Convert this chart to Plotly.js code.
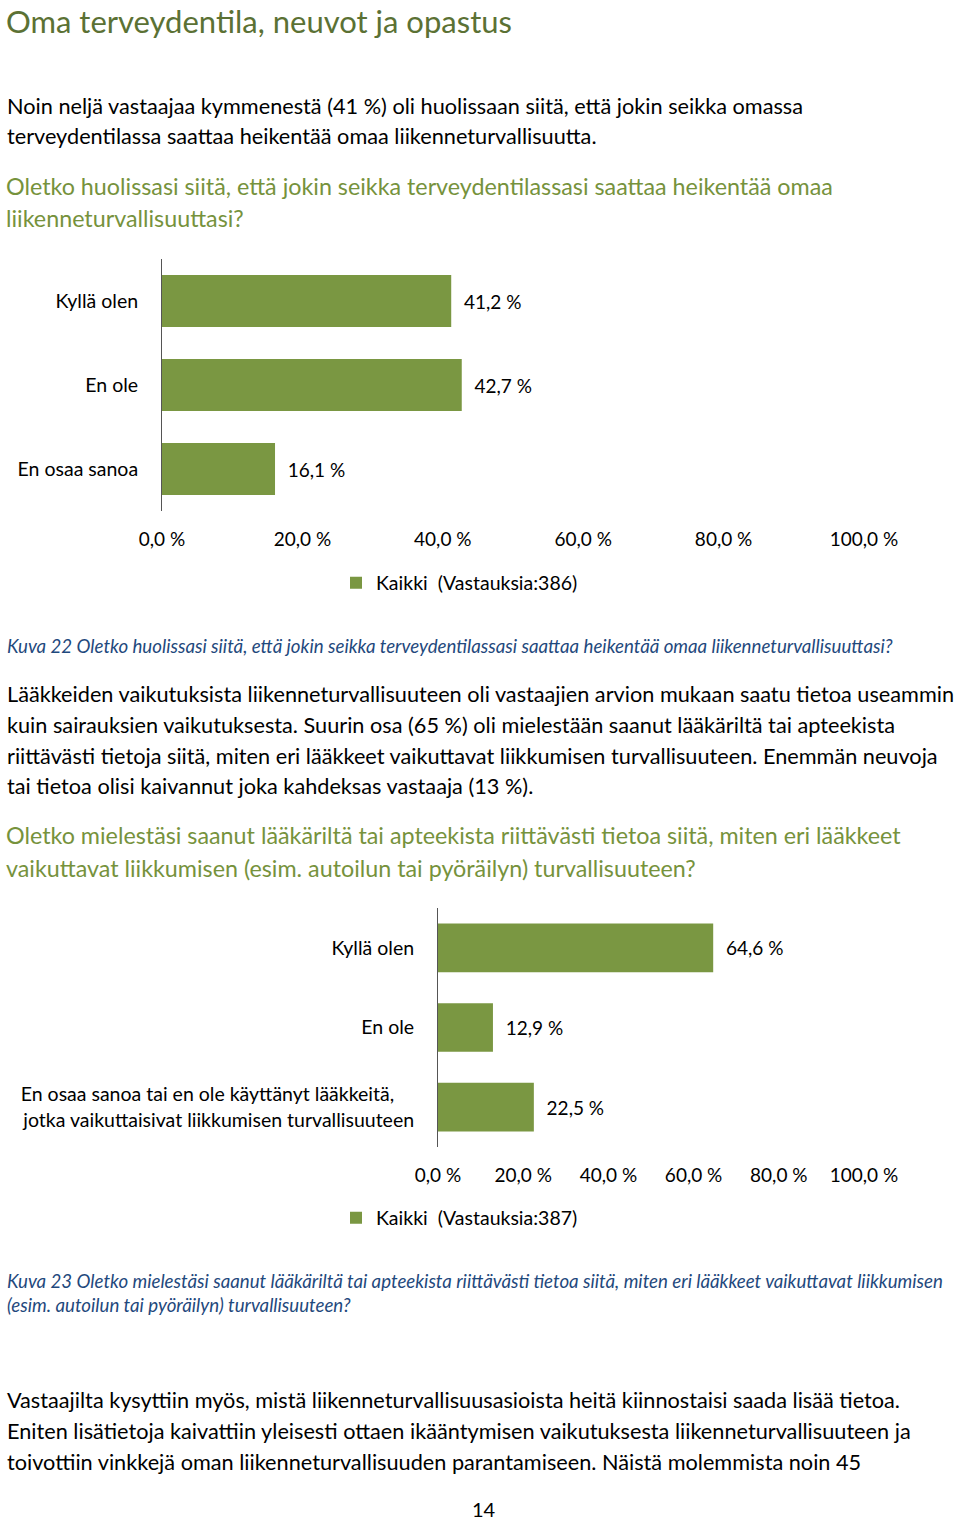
<!DOCTYPE html>
<html><head><meta charset="utf-8">
<script src="https://cdn.plot.ly/plotly-3.0.1.min.js"></script>
<style>html,body{margin:0;padding:0;background:#fff}#p{width:960px;height:1521px}</style>
</head><body><div id="p"></div>
<script>
// Chart 1 data
const cats1 = ["Kyllä olen", "En ole", "En osaa sanoa"];
const vals1 = [41.2, 42.7, 16.1];
const legend1 = "Kaikki  (Vastauksia:386)";
// Chart 2 data
const cats2 = ["Kyllä olen", "En ole", "En osaa sanoa tai en ole käyttänyt lääkkeitä,\u00a0\u00a0\u00a0\u00a0<br>jotka vaikuttaisivat liikkumisen turvallisuuteen"];
const vals2 = [64.6, 12.9, 22.5];
const legend2 = "Kaikki  (Vastauksia:387)";
const xTicks = [0, 20, 40, 60, 80, 100];

const W = 960, H = 1521;
const px = x => x / W;
const py = y => 1 - y / H;
const FONT = "Lato, 'Open Sans', sans-serif";
const BAR = "#7a9742";
const fmt = v => v.toFixed(1).replace('.', ',') + '\u00a0%';
const xTickText = xTicks.map(fmt);

const traces = [
  {type:'bar', orientation:'h', x:vals1, y:cats1, xaxis:'x', yaxis:'y', name:legend1, legend:'legend',
   width:0.62, marker:{color:BAR}, text:vals1.map(v=>'\u00a0\u00a0'+fmt(v)), textposition:'outside',
   textfont:{family:FONT, size:19, color:'#000'}, cliponaxis:false, hoverinfo:'skip', showlegend:true},
  {type:'bar', orientation:'h', x:vals2, y:cats2, xaxis:'x2', yaxis:'y2', name:legend2, legend:'legend2',
   width:0.61, marker:{color:BAR}, text:vals2.map(v=>'\u00a0\u00a0'+fmt(v)), textposition:'outside',
   textfont:{family:FONT, size:19, color:'#000'}, cliponaxis:false, hoverinfo:'skip', showlegend:true}
];

const xax = (d) => ({domain:d, range:[0,100], tickmode:'array', tickvals:xTicks, ticktext:xTickText,
  showgrid:false, zeroline:false, showline:false, ticks:'', ticklabelstandoff:15,
  tickfont:{family:FONT, size:19, color:'#000'}, fixedrange:true});
const yax = (d, anchor, n) => ({domain:d, anchor:anchor, type:'category', range:[n-0.5, -0.5],
  showgrid:false, zeroline:false, showline:true, linecolor:'#555', linewidth:1, ticks:'',
  ticklabelstandoff:19, tickfont:{family:FONT, size:19.5, color:'#000'}, fixedrange:true});

const ann = [];
function T(text, x, y, size, color, extra) {
  ann.push(Object.assign({text:text, xref:'paper', yref:'paper', x:px(x), y:py(y), xanchor:'left', yanchor:'middle',
    showarrow:false, align:'left', borderpad:0, font:{family:FONT, size:size, color:color}}, extra||{}));
}
const GREEN_T = "#5b7134", GREEN_Q = "#76923c", BLUE = "#1f497d";
const BODY = 21.7, Q = 23.3;
T("Oma terveydentila, neuvot ja opastus", 5, 21, 31, GREEN_T);
T("Noin neljä vastaajaa kymmenestä (41 %) oli huolissaan siitä, että jokin seikka omassa", 6, 106, BODY, '#000');
T("terveydentilassa saattaa heikentää omaa liikenneturvallisuutta.", 6, 136, BODY, '#000');
T("Oletko huolissasi siitä, että jokin seikka terveydentilassasi saattaa heikentää omaa", 5, 186, Q, GREEN_Q);
T("liikenneturvallisuuttasi?", 5, 218, Q, GREEN_Q);
T("<i>Kuva 22 Oletko huolissasi siitä, että jokin seikka terveydentilassasi saattaa heikentää omaa liikenneturvallisuuttasi?</i>", 6, 646, 18.7, BLUE);
T("Lääkkeiden vaikutuksista liikenneturvallisuuteen oli vastaajien arvion mukaan saatu tietoa useammin", 6, 694, BODY, '#000');
T("kuin sairauksien vaikutuksesta. Suurin osa (65 %) oli mielestään saanut lääkäriltä tai apteekista", 6, 725, BODY, '#000');
T("riittävästi tietoja siitä, miten eri lääkkeet vaikuttavat liikkumisen turvallisuuteen. Enemmän neuvoja", 6, 756, BODY, '#000');
T("tai tietoa olisi kaivannut joka kahdeksas vastaaja (13 %).", 6, 786, BODY, '#000');
T("Oletko mielestäsi saanut lääkäriltä tai apteekista riittävästi tietoa siitä, miten eri lääkkeet", 5, 835, Q, GREEN_Q);
T("vaikuttavat liikkumisen (esim. autoilun tai pyöräilyn) turvallisuuteen?", 5, 868, Q, GREEN_Q);
T("<i>Kuva 23 Oletko mielestäsi saanut lääkäriltä tai apteekista riittävästi tietoa siitä, miten eri lääkkeet vaikuttavat liikkumisen</i>", 6, 1281, 18.7, BLUE);
T("<i>(esim. autoilun tai pyöräilyn) turvallisuuteen?</i>", 6, 1305, 18.7, BLUE);
T("Vastaajilta kysyttiin myös, mistä liikenneturvallisuusasioista heitä kiinnostaisi saada lisää tietoa.", 6, 1400, BODY, '#000');
T("Eniten lisätietoja kaivattiin yleisesti ottaen ikääntymisen vaikutuksesta liikenneturvallisuuteen ja", 6, 1431, BODY, '#000');
T("toivottiin vinkkejä oman liikenneturvallisuuden parantamiseen. Näistä molemmista noin 45", 6, 1462, BODY, '#000');
T("14", 484, 1509, 20, '#000', {xanchor:'center'});

const leg = (y) => ({x:px(336), y:py(y), xanchor:'left', yanchor:'middle', orientation:'h', bgcolor:'rgba(0,0,0,0)',
  font:{family:FONT, size:19.5, color:'#000'}, itemclick:false, itemdoubleclick:false});

const layout = {
  width:W, height:H, margin:{l:0, r:0, t:0, b:0}, paper_bgcolor:'#fff', plot_bgcolor:'#fff',
  showlegend:true,
  xaxis: Object.assign(xax([px(162), px(864)]), {anchor:'y'}),
  yaxis: yax([py(511), py(259)], 'x', 3),
  xaxis2: Object.assign(xax([px(438), px(864)]), {anchor:'y2'}),
  yaxis2: yax([py(1147), py(908)], 'x2', 3),
  legend: leg(583), legend2: leg(1218),
  annotations: ann
};
Plotly.newPlot('p', traces, layout, {displayModeBar:false, staticPlot:true});
</script></body></html>
